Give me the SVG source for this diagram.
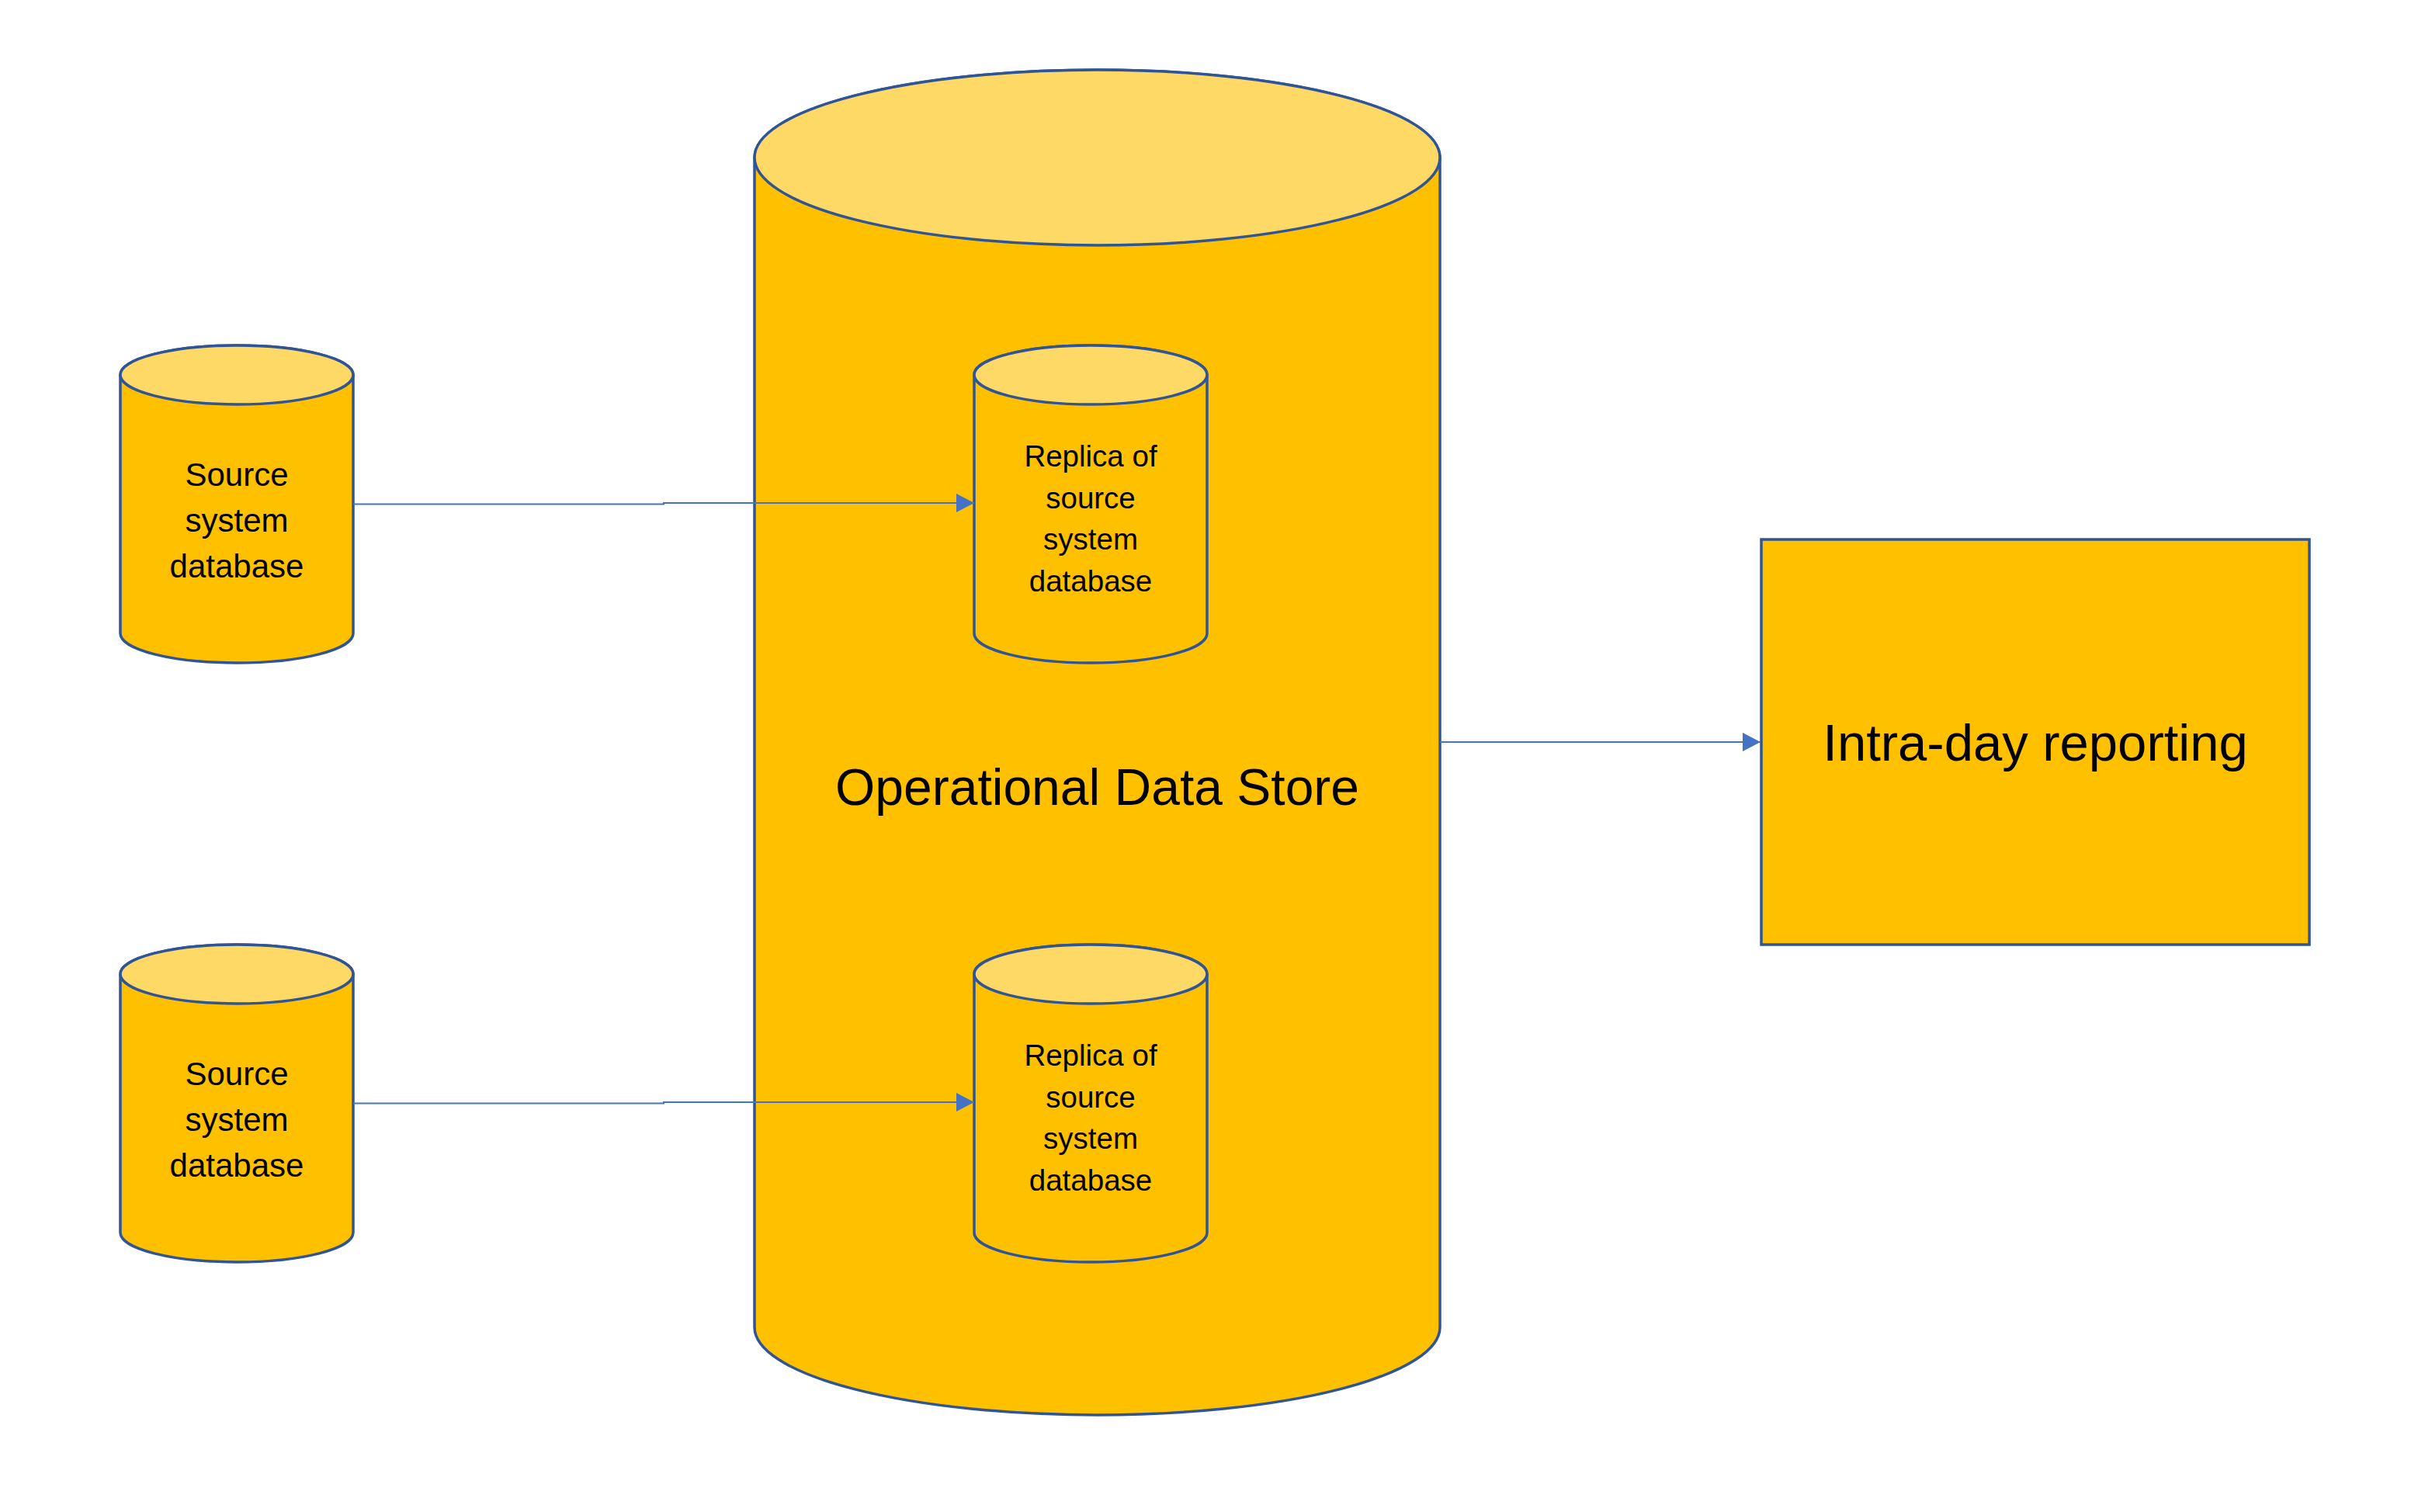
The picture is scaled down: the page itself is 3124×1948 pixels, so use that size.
<svg xmlns="http://www.w3.org/2000/svg" width="3124" height="1948" viewBox="0 0 3124 1948">
<style>
.body{fill:#FFC000;stroke:#2F5597;stroke-width:3.5}
.top{fill:#FFD966;stroke:#2F5597;stroke-width:3.5}
.lbl{font-family:"Liberation Sans",Arial,sans-serif;fill:#000;text-anchor:middle}
.conn{fill:none;stroke:#4472C4;stroke-width:2.2}
</style>
<defs>
<marker id="arr" markerUnits="userSpaceOnUse" markerWidth="24" markerHeight="26" refX="23" refY="12" orient="auto">
<path d="M0,0 L23,12 L0,24 Z" fill="#4472C4"/>
</marker>
</defs>
<rect width="3124" height="1948" fill="#fff"/>
<g id="ods">
<path class="body" d="M972,203 A441.5,113 0 0 1 1855,203 V1710 A441.5,113 0 0 1 972,1710 Z"/>
<ellipse class="top" cx="1413.5" cy="203" rx="441.5" ry="113"/>
<text class="lbl" x="1413.5" y="1037" font-size="66">Operational Data Store</text>
</g>
<g id="source1">
<path class="body" d="M155,483 A150,38 0 0 1 455,483 V816 A150,38 0 0 1 155,816 Z"/>
<ellipse class="top" cx="305" cy="483" rx="150" ry="38"/>
<text class="lbl" font-size="42"><tspan x="305" y="626">Source</tspan><tspan x="305" y="685">system</tspan><tspan x="305" y="744">database</tspan></text>
</g>
<g id="source2">
<path class="body" d="M155,1255 A150,38 0 0 1 455,1255 V1588 A150,38 0 0 1 155,1588 Z"/>
<ellipse class="top" cx="305" cy="1255" rx="150" ry="38"/>
<text class="lbl" font-size="42"><tspan x="305" y="1398">Source</tspan><tspan x="305" y="1457">system</tspan><tspan x="305" y="1516">database</tspan></text>
</g>
<g id="replica1">
<path class="body" d="M1255,483 A150,38 0 0 1 1555,483 V816 A150,38 0 0 1 1255,816 Z"/>
<ellipse class="top" cx="1405" cy="483" rx="150" ry="38"/>
<text class="lbl" font-size="38.5"><tspan x="1405" y="601">Replica of</tspan><tspan x="1405" y="655">source</tspan><tspan x="1405" y="708">system</tspan><tspan x="1405" y="762">database</tspan></text>
</g>
<g id="replica2">
<path class="body" d="M1255,1255 A150,38 0 0 1 1555,1255 V1588 A150,38 0 0 1 1255,1588 Z"/>
<ellipse class="top" cx="1405" cy="1255" rx="150" ry="38"/>
<text class="lbl" font-size="38.5"><tspan x="1405" y="1373">Replica of</tspan><tspan x="1405" y="1427">source</tspan><tspan x="1405" y="1480">system</tspan><tspan x="1405" y="1534">database</tspan></text>
</g>
<g id="reporting">
<rect x="2269" y="695" width="706" height="522" fill="#FFC000" stroke="#2F5597" stroke-width="3.5"/>
<text class="lbl" x="2622" y="980" font-size="67">Intra-day reporting</text>
</g>
<g id="connectors">
<path class="conn" d="M455,649.5 H855 V648 H1255" marker-end="url(#arr)"/>
<path class="conn" d="M455,1421.5 H855 V1420 H1255" marker-end="url(#arr)"/>
<path class="conn" d="M1855,956 H2268" marker-end="url(#arr)"/>
</g>
</svg>
